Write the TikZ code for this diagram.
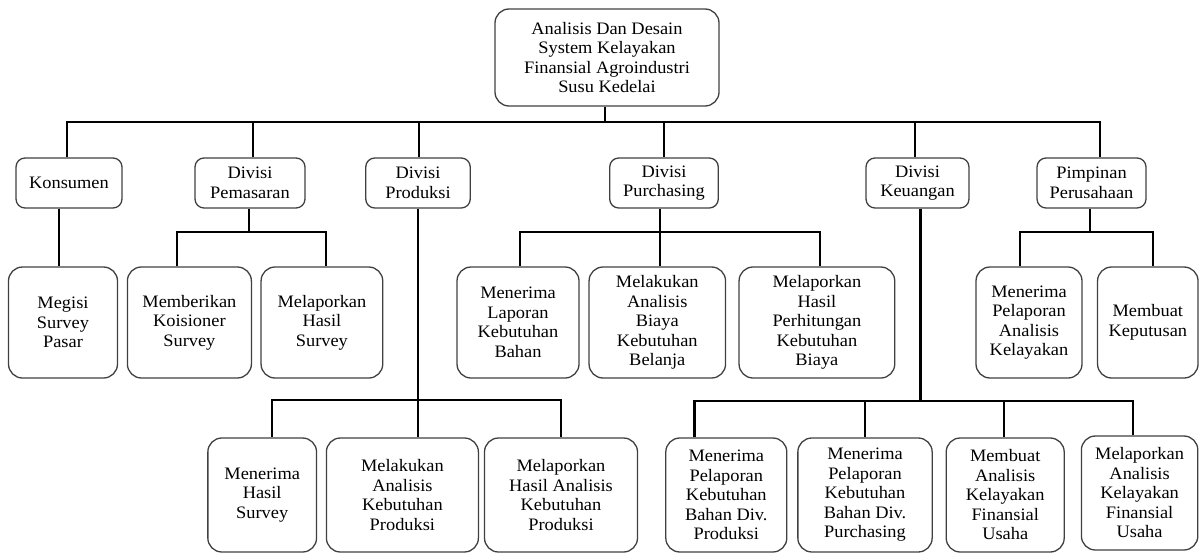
\documentclass[tikz,border=0pt]{standalone}
\usepackage{fontspec}
\setmainfont{Liberation Serif}[FakeStretch=1.05]
\begin{document}
\begin{tikzpicture}[x=1pt,y=-1pt,
  box/.style={draw=black!75, line width=1.3pt, rounded corners=14pt,
    align=center, inner sep=0pt, minimum height=111pt,
    font=\fontsize{17.5}{19.5}\selectfont},
  unit/.style={box, rounded corners=9pt, minimum height=50pt},
  low/.style={box, minimum height=114pt},
  link/.style={line width=2.8pt, line join=miter}]
\useasboundingbox (0,0) rectangle (1199,554);

% top of the chart
\node[box, minimum width=224pt, minimum height=97pt] (root) at (607,57.5)
  {Analisis Dan Desain\\System Kelayakan\\Finansial Agroindustri\\Susu Kedelai};

% units
\node[unit, minimum width=106pt]   (kons) at (69,183)     {Konsumen};
\node[unit, minimum width=110pt]   (pem)  at (250,183)    {Divisi\\Pemasaran};
\node[unit, minimum width=104.5pt] (prod) at (418,183)    {Divisi\\Produksi};
\node[unit, minimum width=108.6pt] (pur)  at (664,183)    {Divisi\\Purchasing};
\node[unit, minimum width=103pt]   (keu)  at (917.5,183)  {Divisi\\Keuangan};
\node[unit, minimum width=109pt]   (pim)  at (1091.5,183) {Pimpinan\\Perusahaan};

% tasks, upper row
\node[box, minimum width=109pt]   (megisi) at (63,322.5)     {Megisi\\Survey\\Pasar};
\node[box, minimum width=124pt]   (memb)   at (189.4,322.5)  {Memberikan\\Koisioner\\Survey};
\node[box, minimum width=121.7pt] (melsur) at (321.9,322.5)  {Melaporkan\\Hasil\\Survey};
\node[box, minimum width=122pt]   (mlb)    at (518,322.5)    {Menerima\\Laporan\\Kebutuhan\\Bahan};
\node[box, minimum width=136.5pt] (mab)    at (657.3,322.5)  {Melakukan\\Analisis\\Biaya\\Kebutuhan\\Belanja};
\node[box, minimum width=155.7pt] (mphk)   at (816.9,322.5)  {Melaporkan\\Hasil\\Perhitungan\\Kebutuhan\\Biaya};
\node[box, minimum width=106pt]   (mpak)   at (1029,322.5)   {Menerima\\Pelaporan\\Analisis\\Kelayakan};
\node[box, minimum width=100.5pt] (mk)     at (1147.8,322.5) {Membuat\\Keputusan};

% tasks, lower row
\node[low, minimum width=108.7pt] (mhs)    at (262.2,495)  {Menerima\\Hasil\\Survey};
\node[low, minimum width=152pt]   (makp)   at (402.4,495)  {Melakukan\\Analisis\\Kebutuhan\\Produksi};
\node[low, minimum width=153pt]   (mhakp)  at (561,495)    {Melaporkan\\Hasil Analisis\\Kebutuhan\\Produksi};
\node[low, minimum width=121pt]   (mpkp)   at (726.3,495)  {Menerima\\Pelaporan\\Kebutuhan\\Bahan Div.\\Produksi};
\node[low, minimum width=134.3pt] (mpkpur) at (865,495)    {Menerima\\Pelaporan\\Kebutuhan\\Bahan Div.\\Purchasing};
\node[low, minimum width=118pt]   (maku)   at (1005.2,495) {Membuat\\Analisis\\Kelayakan\\Finansial\\Usaha};
\node[low, minimum width=116.4pt] (mlaku)  at (1139.6,493) {Melaporkan\\Analisis\\Kelayakan\\Finansial\\Usaha};

% root to units
\draw[link] (root.south -| 605,0) -- (605,122);
\draw[link] (67,0 |- kons.north) -- (67,122) -- (1100,122) -- (1100,0 |- pim.north);
\draw[link] (253,122) -- (253,0 |- pem.north);
\draw[link] (419,122) -- (419,0 |- prod.north);
\draw[link] (664,122) -- (664,0 |- pur.north);
\draw[link] (915,122) -- (915,0 |- keu.north);

% Konsumen
\draw[link] (kons.south -| 59,0) -- (59,0 |- megisi.north);

% Divisi Pemasaran
\draw[link] (pem.south -| 249,0) -- (249,232);
\draw[link] (177,0 |- memb.north) -- (177,232) -- (326,232) -- (326,0 |- melsur.north);

% Divisi Produksi
\draw[link] (prod.south -| 418,0) -- (418,0 |- makp.north);
\draw[link] (272,0 |- mhs.north) -- (272,400) -- (561,400) -- (561,0 |- mhakp.north);

% Divisi Purchasing
\draw[link] (pur.south -| 660,0) -- (660,0 |- mab.north);
\draw[link] (520,0 |- mlb.north) -- (520,232) -- (820,232) -- (820,0 |- mphk.north);

% Divisi Keuangan
\draw[link] (keu.south -| 920.7,0) -- (920.7,401);
\draw[link] (694.5,0 |- mpkp.north) -- (694.5,401) -- (1133,401) -- (1133,0 |- mlaku.north);
\draw[link] (865,401) -- (865,0 |- mpkpur.north);
\draw[link] (1004,401) -- (1004,0 |- maku.north);

% Pimpinan Perusahaan
\draw[link] (pim.south -| 1090,0) -- (1090,232);
\draw[link] (1020,0 |- mpak.north) -- (1020,232) -- (1153,232) -- (1153,0 |- mk.north);
\end{tikzpicture}
\end{document}
